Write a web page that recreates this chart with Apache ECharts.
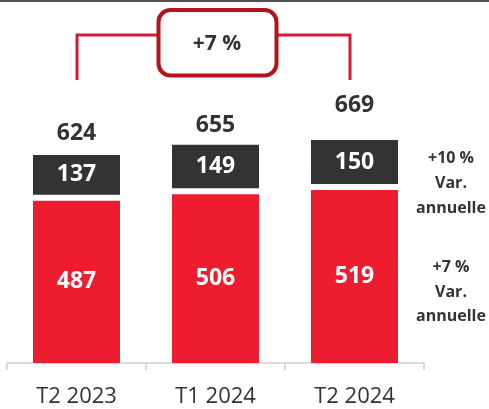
<!DOCTYPE html>
<html>
<head>
<meta charset="utf-8">
<script src="https://cdn.jsdelivr.net/npm/echarts@6/dist/echarts.min.js"></script>
<style>
  html, body { margin: 0; padding: 0; background: #fff; }
  #chart { width: 489px; height: 409px; }
</style>
</head>
<body>
<div id="chart"></div>
<script>
const categories = ['T2 2023', 'T1 2024', 'T2 2024']
const redValues = [487, 506, 519]
const darkValues = [137, 149, 150]
const totals = [624, 655, 669]
const growthLabel = '+7 %'
const sideNotes = ['+10 %\nVar.\nannuelle', '+7 %\nVar.\nannuelle']

const FONT = '"Open Sans", sans-serif'
const RED = '#ed1c2e'
const DARK = '#333333'
const TEXT = '#333333'
// how high the total sits above each bar (px)
const totalLift = [22, 19, 35]
const segGap = 6

const chart = echarts.init(document.getElementById('chart'))

const option = {
  animation: false,
  grid: { left: 7, right: 65, top: 63, bottom: 46 },
  xAxis: {
    type: 'category',
    data: categories,
    offset: 3,
    axisLine: { lineStyle: { color: '#d0d0d0', width: 1.5 } },
    axisTick: { show: true, length: 7, lineStyle: { color: '#d0d0d0', width: 1.5 } },
    axisLabel: { color: TEXT, fontFamily: FONT, fontSize: 22, margin: 20 }
  },
  yAxis: { type: 'value', min: 0, max: 900, show: false },
  series: [
    {
      type: 'bar',
      data: redValues,
      barWidth: 87,
      itemStyle: { color: RED },
      label: {
        show: true,
        position: 'inside',
        color: '#fff',
        fontFamily: FONT,
        fontWeight: 'bold',
        fontSize: 23
      }
    },
    {
      type: 'custom',
      data: darkValues.map((v, i) => [i, redValues[i], totals[i], v]),
      renderItem: function (params, api) {
        const i = api.value(0)
        const top = api.coord([i, api.value(2)])
        const bottom = api.coord([i, api.value(1)])
        const w = 87
        const y0 = top[1]
        const y1 = bottom[1] - segGap
        return {
          type: 'group',
          children: [
            {
              type: 'rect',
              shape: { x: top[0] - w / 2, y: y0, width: w, height: y1 - y0 },
              style: { fill: DARK }
            },
            {
              type: 'text',
              style: {
                text: String(api.value(3)),
                x: top[0],
                y: (y0 + y1) / 2,
                align: 'center',
                verticalAlign: 'middle',
                fill: '#fff',
                font: 'bold 23px ' + FONT
              }
            },
            {
              type: 'text',
              style: {
                text: String(api.value(2)),
                x: top[0],
                y: y0 - totalLift[params.dataIndex],
                align: 'center',
                verticalAlign: 'middle',
                fill: TEXT,
                font: 'bold 23px ' + FONT
              }
            }
          ]
        }
      }
    }
  ],
  graphic: [
    { type: 'rect', shape: { x: 0, y: 0, width: 489, height: 2 }, style: { fill: '#505050' } },
    {
      type: 'polyline',
      shape: { points: [[77, 80], [77, 35], [158, 35]] },
      style: { stroke: '#d61a35', lineWidth: 3, fill: null }
    },
    {
      type: 'polyline',
      shape: { points: [[277, 35], [350, 35], [350, 80]] },
      style: { stroke: '#d61a35', lineWidth: 3, fill: null }
    },
    {
      type: 'rect',
      shape: { x: 158.5, y: 10, width: 118, height: 65.5, r: 12 },
      style: { fill: '#fff', stroke: '#b4121c', lineWidth: 4 }
    },
    {
      type: 'text',
      style: {
        text: growthLabel, x: 217, y: 44, align: 'center', verticalAlign: 'middle',
        fill: TEXT, font: 'bold 21px ' + FONT
      }
    },
    {
      type: 'text',
      style: {
        text: sideNotes[0], x: 451, y: 183, align: 'center', verticalAlign: 'middle',
        fill: TEXT, font: 'bold 16px ' + FONT, lineHeight: 25
      }
    },
    {
      type: 'text',
      style: {
        text: sideNotes[1], x: 451, y: 292, align: 'center', verticalAlign: 'middle',
        fill: TEXT, font: 'bold 16px ' + FONT, lineHeight: 24.5
      }
    }
  ]
}

chart.setOption(option)
</script>
</body>
</html>
